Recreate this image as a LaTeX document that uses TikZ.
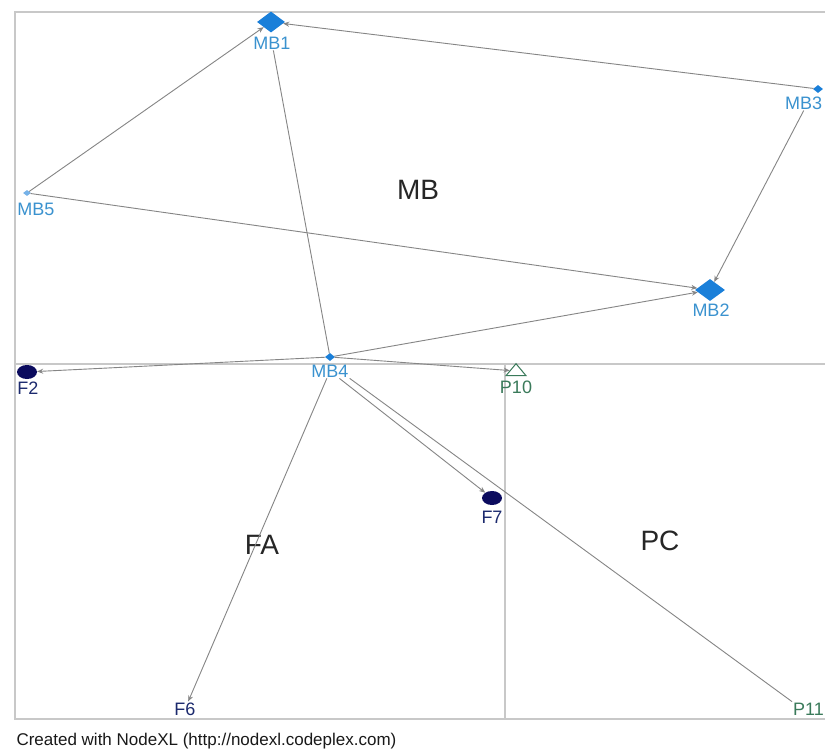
\documentclass[tikz,border=0pt]{standalone}
\usepackage{fontspec}
\setmainfont{Liberation Sans}
\usetikzlibrary{arrows.meta,shapes.geometric}
\definecolor{mbfill}{HTML}{1A7FD9}
\definecolor{mbtext}{HTML}{3A92CF}
\definecolor{fafill}{HTML}{0B0B5E}
\definecolor{fatext}{HTML}{1C2A6E}
\definecolor{pctext}{HTML}{3A7A5A}
\definecolor{edgecol}{HTML}{858585}
\definecolor{boxcol}{HTML}{C8C8C8}
\tikzset{
  mbnode/.style={diamond,fill=mbfill,draw=none,inner sep=0pt,aspect=1.3},
  fanode/.style={ellipse,fill=fafill,draw=none,inner sep=0pt,minimum width=20pt,minimum height=14pt},
  pcnode/.style={isosceles triangle,isosceles triangle apex angle=80,isosceles triangle stretches,shape border rotate=90,draw=pctext,line width=1pt,fill=white,inner sep=0pt,minimum height=12pt,minimum width=20pt},
  lbl/.style={inner sep=1pt,font=\fontsize{18}{20}\selectfont},
  mblbl/.style={lbl,text=mbtext},
  falbl/.style={lbl,text=fatext},
  pclbl/.style={lbl,text=pctext},
  grouplbl/.style={font=\fontsize{28}{32}\selectfont,text=black!85},
  edge/.style={draw=edgecol,line width=0.9pt,-{Stealth[length=6pt,width=5pt]}},
  plainedge/.style={draw=edgecol,line width=0.9pt},
  groupline/.style={draw=boxcol,line width=1.4pt}
}
\begin{document}
\begin{tikzpicture}[x=1pt,y=-1pt]
\useasboundingbox[fill=white] (0,0) rectangle (825,754);

% group boxes
\draw[groupline] (825,12) -- (15,12) -- (15,719) -- (825,719);
\draw[groupline] (15,364) -- (825,364);
\draw[groupline] (505,364) -- (505,719);

% group captions
\node[grouplbl] (gMB) at (418,190) {MB};
\node[grouplbl] (gFA) at (262,545) {FA};
\node[grouplbl] (gPC) at (660,541) {PC};

% vertices
\node[mbnode,minimum width=28pt,minimum height=21pt] (MB1) at (271,22) {};
\node[mbnode,minimum width=30pt,minimum height=22pt] (MB2) at (710,290) {};
\node[mbnode,minimum width=10pt,minimum height=8pt] (MB3) at (818,89) {};
\node[mbnode,minimum width=10pt,minimum height=8pt] (MB4) at (330,357) {};
\node[mbnode,minimum width=8pt,minimum height=6pt,fill=mbfill!60] (MB5) at (27,193) {};
\node[fanode] (F2) at (27,372) {};
\node[fanode] (F7) at (492,498) {};
\node[pcnode] (P10) at (516,371) {};

% vertex labels
\node[mblbl] (MB1l) at (272,43) {MB1};
\node[mblbl] (MB2l) at (711,310) {MB2};
\node[mblbl,anchor=west] (MB3l) at (784,103) {MB3};
\node[mblbl] (MB4l) at (330,371) {MB4};
\node[mblbl] (MB5l) at (36,209) {MB5};
\node[falbl] (F2l) at (28,388) {F2};
\node[falbl] (F7l) at (492,517) {F7};
\node[falbl] (F6l) at (185,709) {F6};
\node[pclbl] (P10l) at (516,387) {P10};
\node[pclbl,anchor=west] (P11l) at (792,709) {P11};

% edges
\draw[edge] (MB5) -- (MB1);
\draw[edge] (MB3) -- (MB1);
\draw[edge] (MB3l.south) -- (MB2);
\draw[edge] (MB5) -- (MB2);
\draw[edge] (MB4) -- (MB2);
\draw[plainedge] (MB1l) -- (MB4);
\draw[edge] (MB4) -- (F2);
\draw[edge] (MB4) -- (P10);
\draw[edge] (MB4l) -- (F6l);
\draw[edge] (MB4l) -- (F7);
\draw[plainedge] (MB4l.south east) -- (P11l.north west);

% footer
\node[anchor=west,font=\fontsize{17}{20}\selectfont,text=black!90] (credit) at (13,741) {Created with NodeXL (http://nodexl.codeplex.com)};
\end{tikzpicture}
\end{document}
